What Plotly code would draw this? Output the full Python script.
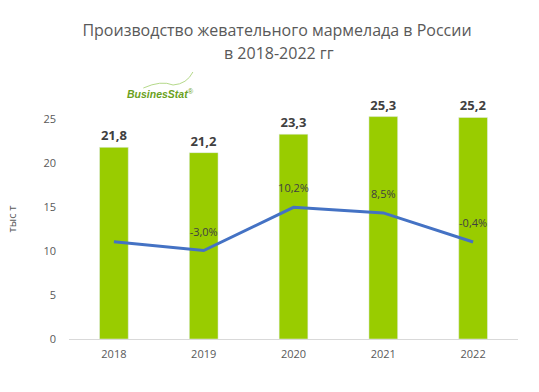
import plotly.graph_objects as go

years = ["2018", "2019", "2020", "2021", "2022"]
production = [21.8, 21.2, 23.3, 25.3, 25.2]
prod_labels = ["21,8", "21,2", "23,3", "25,3", "25,2"]
growth = [-0.3, -3.0, 10.2, 8.5, -0.4]
growth_labels = ["", "-3,0%", "10,2%", "8,5%", "-0,4%"]
title_lines = ["Производство жевательного мармелада в России", "в 2018-2022 гг"]

FONT = "Open Sans"
fig = go.Figure()
fig.add_trace(go.Bar(
    x=years, y=production, width=0.32, marker_color="#99cc00",
    text=prod_labels, textposition="outside", cliponaxis=False,
    textfont=dict(size=13, color="#404040", family=FONT),
    texttemplate="<b>%{text}</b>", hoverinfo="skip"))
fig.add_trace(go.Scatter(
    x=years, y=growth, yaxis="y2", mode="lines",
    line=dict(color="#4472c4", width=3), hoverinfo="skip"))
lab_x = [x for x, t in zip(years, growth_labels) if t]
lab_y = [g for g, t in zip(growth, growth_labels) if t]
lab_t = [t for t in growth_labels if t]
fig.add_trace(go.Scatter(
    x=lab_x, y=lab_y, yaxis="y2", mode="markers+text",
    marker=dict(size=18, color="rgba(0,0,0,0)"),
    text=lab_t, textposition="top center",
    textfont=dict(size=11, color="#404040", family=FONT), cliponaxis=False))

fig.update_layout(
    width=539, height=392,
    margin=dict(l=65, r=21, t=99, b=53),
    paper_bgcolor="white", plot_bgcolor="white",
    showlegend=False,
    font=dict(family=FONT, color="#595959"),
    title=dict(text=title_lines[0],
               x=277/539, xanchor="center", y=1-30/392, yanchor="middle",
               font=dict(size=16, color="#595959", family=FONT)),
    xaxis=dict(showline=True, linecolor="#d9d9d9", linewidth=1, ticks="",
               ticklabelstandoff=5, tickfont=dict(size=11, color="#595959")),
    yaxis=dict(range=[0, 27.3], tickvals=[0, 5, 10, 15, 20, 25], showgrid=False,
               zeroline=False, showline=False, ticklabelstandoff=12,
               tickfont=dict(size=11, color="#595959"),
               title=dict(text="тыс т", font=dict(size=11, color="#595959"), standoff=24)),
    yaxis2=dict(overlaying="y", range=[-30.05, 43.33], visible=False),
)

fig.add_annotation(xref="paper", yref="paper", x=(277-65)/453, y=(339-53)/240,
                   xanchor="center", yanchor="middle", showarrow=False,
                   text=title_lines[1],
                   font=dict(size=16, color="#595959", family=FONT))
fig.add_annotation(xref="paper", yref="paper", x=(157-65)/453, y=(339-93)/240,
                   xanchor="center", yanchor="middle",
                   text="<i><b>BusinesStat</b></i><sup>®</sup>", showarrow=False,
                   font=dict(size=10.5, color="#6aa120", family="Liberation Sans"))
fig.add_shape(type="path", xref="paper", yref="paper",
              path="M %f %f Q %f %f %f %f Q %f %f %f %f" % (
                  (140-65)/453, (339-88)/240,
                  (158-65)/453, (339-80)/240, (170-65)/453, (339-85)/240,
                  (184-65)/453, (339-84)/240, (190-65)/453, (339-72)/240),
              line=dict(color="#b5d98a", width=1))

fig.write_html("out.html", config={"displayModeBar": False},
               post_script="document.body.style.margin='0px';")
